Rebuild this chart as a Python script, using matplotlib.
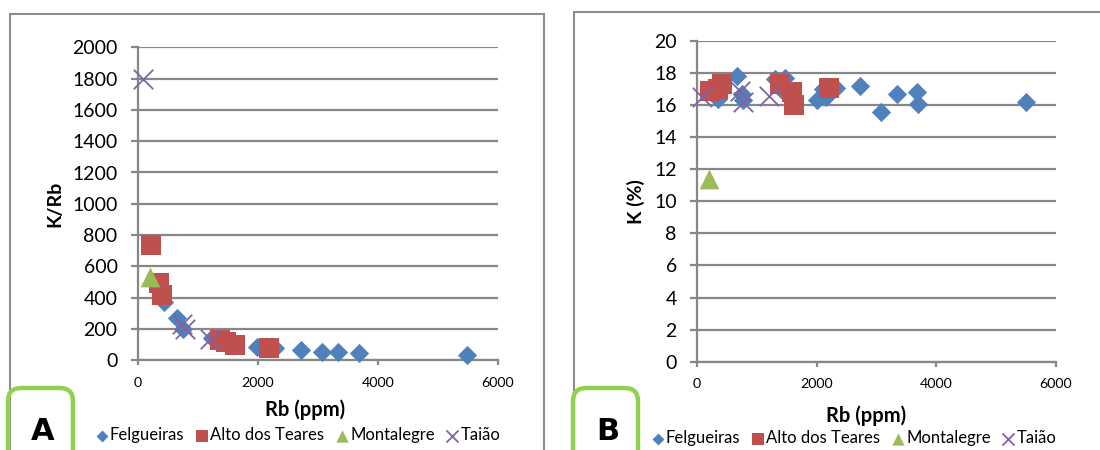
import matplotlib
matplotlib.use("Agg")
import matplotlib.pyplot as plt
from matplotlib.patches import Rectangle, FancyBboxPatch

# ---------------- data ----------------
series_names = ["Felgueiras", "Alto dos Teares", "Montalegre", "Taião"]

# Panel A : K/Rb vs Rb (ppm)
felg_rb_A = [430, 651, 760, 1230, 1990, 2100, 2290, 2718, 3075, 3340, 3681, 5485]
felg_krb_A = [373, 273, 202, 145, 85, 80, 80, 64, 53, 53, 47, 32]
alto_rb_A = [221, 347, 413, 1378, 1470, 1615, 2193]
alto_krb_A = [739, 494, 415, 128, 117, 96, 78]
mont_rb_A = [210]
mont_krb_A = [530]
taiao_rb_A = [90, 734, 789, 1202]
taiao_krb_A = [1800, 234, 202, 138]

# Panel B : K (%) vs Rb (ppm)
felg_rb_B = [356, 370, 662, 746, 773, 1302, 1400, 1469, 1998, 2108, 2164, 2331,
             2720, 3082, 3343, 3677, 3694, 5502]
felg_k_B = [16.4, 17.1, 17.8, 16.7, 16.3, 17.6, 17.0, 17.7, 16.3, 17.0, 16.5, 17.1,
            17.2, 15.6, 16.7, 16.8, 16.1, 16.2]
alto_rb_B = [217, 350, 412, 1385, 1580, 1619, 2208]
alto_k_B = [16.9, 17.0, 17.3, 17.3, 16.8, 16.0, 17.1]
mont_rb_B = [205]
mont_k_B = [11.4]
taiao_rb_B = [78, 718, 773, 1207]
taiao_k_B = [16.5, 16.9, 16.2, 16.6]

x_ticks = [0, 2000, 4000, 6000]
yticks_A = list(range(0, 2001, 200))
yticks_B = list(range(0, 21, 2))

# ---------------- style ----------------
FONT = "Lato"
plt.rcParams["font.family"] = [FONT, "DejaVu Sans"]
C_BLUE = "#4F81BD"
C_RED = "#C0504D"
C_GREEN = "#9BBB59"
C_PURPLE = "#8064A2"
GRID = "#878787"
BORDER = "#8C8C8C"
BOX_GREEN = "#92D050"

W, H = 1100, 450
fig = plt.figure(figsize=(W / 100, H / 100), dpi=100)


def fx(px):
    return px / W


def fy(py):
    return 1 - py / H


def panel(rect, xs_list, ys_list, ymax, yticks, ylabel, ylabel_right, xlabel_cx, xlabel_top,
          letter, box_x0, border_x0, border_w, border_top, legend_center_x, legend_y):
    x0, y0, x1, y1 = rect  # pixel coords: left, top, right, bottom
    ax = fig.add_axes([fx(x0), fy(y1), fx(x1 - x0), (y1 - y0) / H])
    styles = [
        dict(marker="D", s=9.8 ** 2, color=C_BLUE, linewidths=0),
        dict(marker="s", s=14.2 ** 2, color=C_RED, linewidths=0),
        dict(marker="^", s=14.2 ** 2, color=C_GREEN, linewidths=0),
        dict(marker="x", s=14 ** 2, color=C_PURPLE, linewidths=1.3),
    ]
    for i, (xs, ys) in enumerate(zip(xs_list, ys_list)):
        ax.scatter(xs, ys, label=series_names[i], zorder=3 + i, clip_on=False, **styles[i])
    ax.set_xlim(0, 6000)
    ax.set_ylim(0, ymax)
    ax.set_xticks(x_ticks)
    ax.set_yticks(yticks)
    ax.set_xticklabels([str(v) for v in x_ticks], fontsize=10.3)
    ax.set_yticklabels([str(v) for v in yticks], fontsize=14)
    ax.yaxis.grid(True, color=GRID, linewidth=1.6)
    ax.set_axisbelow(True)
    for sp in ["top", "right"]:
        ax.spines[sp].set_visible(False)
    for sp in ["left", "bottom"]:
        ax.spines[sp].set_color(GRID)
        ax.spines[sp].set_linewidth(1.6)
    ax.tick_params(axis="y", length=5, width=1.6, color=GRID, pad=9.5)
    ax.tick_params(axis="x", length=3.5, width=1.6, color=GRID, pad=8.5)
    ax.set_xlabel("Rb (ppm)", fontsize=14.5, fontweight="bold")
    ax.xaxis.set_label_coords((xlabel_cx - x0) / (x1 - x0), (y1 - xlabel_top) / (y1 - y0))
    ax.set_ylabel(ylabel, fontsize=14, fontweight="bold")
    ax.yaxis.set_label_coords((ylabel_right - x0) / (x1 - x0), 0.5)

    # legend
    handles, labels = ax.get_legend_handles_labels()
    fig.legend(handles, labels, loc="center", ncol=4,
               bbox_to_anchor=(fx(legend_center_x), fy(legend_y)),
               frameon=False, fontsize=12.0, handlelength=0.7, handletextpad=0.15,
               columnspacing=0.7, markerscale=0.62, borderaxespad=0, borderpad=0)
    # panel border
    fig.patches.append(Rectangle((fx(border_x0), fy(H + 20)), fx(border_w), fy(border_top) - fy(H + 20),
                                 transform=fig.transFigure, fill=False, edgecolor=BORDER,
                                 linewidth=1.5, zorder=0))
    # green letter box
    fig.patches.append(FancyBboxPatch((fx(box_x0), fy(H + 30)), fx(65), fy(388) - fy(H + 30),
                                      boxstyle="round,pad=0,rounding_size=0.012",
                                      transform=fig.transFigure, fill=False,
                                      edgecolor=BOX_GREEN, linewidth=3.2, zorder=1,
                                      mutation_aspect=W / H))
    fig.text(fx(box_x0 + 35), fy(432), letter, fontsize=22, fontweight="heavy",
             family="DejaVu Sans", ha="center", va="center")
    return ax


axA = panel((137.7, 47.3, 497.7, 360.3),
            [felg_rb_A, alto_rb_A, mont_rb_A, taiao_rb_A],
            [felg_krb_A, alto_krb_A, mont_krb_A, taiao_krb_A],
            2000, yticks_A, "K/Rb", 63, 305, 399,
            "A", 8, 10, 534, 14, 298, 435)
axB = panel((697, 41, 1056, 361.7),
            [felg_rb_B, alto_rb_B, mont_rb_B, taiao_rb_B],
            [felg_k_B, alto_k_B, mont_k_B, taiao_k_B],
            20, yticks_B, "K (%)", 645, 866, 405,
            "B", 573, 574, 600, 12, 854, 438)

fig.savefig("out.png", dpi=100)
